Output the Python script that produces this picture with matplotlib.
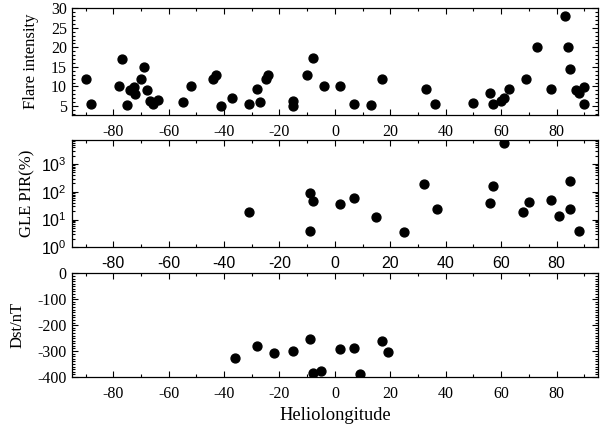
import matplotlib
matplotlib.use("Agg")
import matplotlib.pyplot as plt
from matplotlib.ticker import MultipleLocator, LogLocator, NullFormatter

# ── data ──────────────────────────────────────────────────────────────────────
flare_lon = [-90, -88, -77, -78, -75, -74, -72.6, -72, -70, -69, -67.7, -66.8, -65.8, -63.8,
             -55, -52, -44, -43, -41, -37, -31, -28, -27, -25, -24, -15, -15,
             -10, -8, -4, 2, 7, 13, 17, 33, 36, 50, 56, 57, 60, 61, 63,
             69, 73, 78, 83, 84, 85, 87, 88, 90, 90]
flare_int = [12, 5.4, 17, 10, 5.3, 9, 9.8, 8, 12, 15, 9, 6.4, 5.5, 6.5,
             5.9, 10, 12, 13, 5, 7.1, 5.6, 9.4, 5.9, 12, 13, 6.3, 5,
             13, 17.2, 10, 10, 5.6, 5.3, 12, 9.3, 5.5, 5.8, 8.4, 5.6, 6.4, 7.0, 9.4,
             12, 20, 9.4, 28, 20, 14.5, 9.1, 8.2, 9.9, 5.5]

gle_lon = [-31, -9, -8, -9, 2, 7, 15, 25, 32, 37, 56, 57, 61, 68, 70, 78, 81, 85, 85, 88]
gle_pir = [18, 93, 46, 4.0, 35, 60, 12, 3.6, 195, 24, 40, 166, 5600, 19, 43, 52, 14, 24, 245, 4.0]

dst_lon = [-36, -28, -22, -15, -9, -8, -5, 2, 7, 9, 17, 19]
dst_val = [-326, -281, -307, -298, -254, -386, -376, -291, -289, -388, -263, -302]

SERIF = "Liberation Serif"
SANS = "Liberation Sans"

plt.rcParams["font.family"] = SERIF
plt.rcParams["axes.unicode_minus"] = False
plt.rcParams["mathtext.fontset"] = "custom"
plt.rcParams["mathtext.rm"] = SANS
plt.rcParams["mathtext.it"] = SANS + ":italic"

fig = plt.figure(figsize=(6.1, 4.3), dpi=100)
L, W = 0.1175, 0.863
ax1 = fig.add_axes([L, 0.7326, W, 0.248])
ax2 = fig.add_axes([L, 0.4249, W, 0.2495])
ax3 = fig.add_axes([L, 0.1233, W, 0.241])

MS = 6.4
for ax in (ax1, ax2, ax3):
    ax.set_xlim(-95, 95)
    ax.xaxis.set_major_locator(MultipleLocator(20))
    ax.xaxis.set_minor_locator(MultipleLocator(10))
    ax.tick_params(which="both", direction="in", top=True, right=True,
                   width=0.8, labelsize=11.5)
    ax.tick_params(axis="x", which="major", pad=6.5)
    ax.tick_params(axis="y", which="major", pad=3.5)
    ax.tick_params(which="major", length=4)
    ax.tick_params(which="minor", length=2.2)
    for sp in ax.spines.values():
        sp.set_linewidth(0.9)

# ── top: flare intensity ──────────────────────────────────────────────────────
ax1.plot(flare_lon, flare_int, "o", color="black", ms=MS)
ax1.set_ylim(2.7, 30)
ax1.yaxis.set_major_locator(MultipleLocator(5))
ax1.yaxis.set_minor_locator(MultipleLocator(1))
ax1.set_ylabel("Flare intensity", fontsize=12)
ax1.yaxis.set_label_coords(-0.062, 0.5)

# ── middle: GLE PIR (log) ─────────────────────────────────────────────────────
ax2.plot(gle_lon, gle_pir, "o", color="black", ms=MS)
ax2.set_yscale("log")
ax2.set_ylim(1, 7400)
ax2.yaxis.set_major_locator(LogLocator(base=10, numticks=10))
ax2.yaxis.set_minor_locator(LogLocator(base=10, subs=range(2, 10), numticks=10))
ax2.yaxis.set_minor_formatter(NullFormatter())
ax2.set_ylabel("GLE PIR(%)", fontsize=12)
ax2.yaxis.set_label_coords(-0.068, 0.5)
for lab in ax2.get_xticklabels() + ax2.get_yticklabels():
    lab.set_fontfamily(SANS)

# ── bottom: Dst ───────────────────────────────────────────────────────────────
ax3.plot(dst_lon, dst_val, "o", color="black", ms=MS)
ax3.set_ylim(-400, 0)
ax3.yaxis.set_major_locator(MultipleLocator(100))
ax3.yaxis.set_minor_locator(MultipleLocator(10))
ax3.set_ylabel("Dst/nT", fontsize=12)
ax3.yaxis.set_label_coords(-0.088, 0.5)
ax3.set_xlabel("Heliolongitude", fontsize=13.3)
ax3.xaxis.set_label_coords(0.5, -0.29)

fig.savefig("out.png", dpi=100)
